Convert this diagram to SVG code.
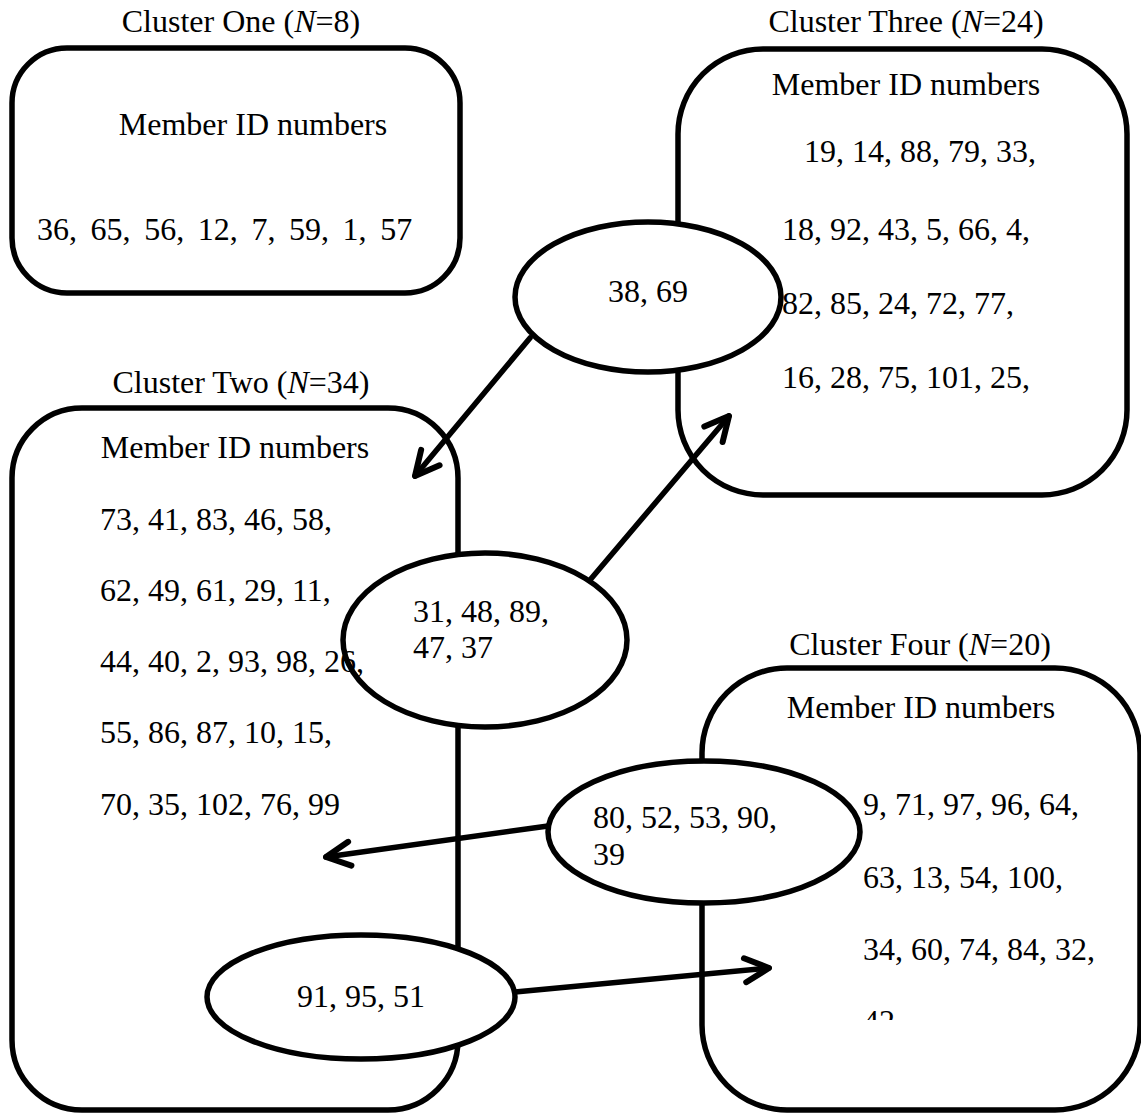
<svg xmlns="http://www.w3.org/2000/svg" width="1141" height="1118" viewBox="0 0 1141 1118">
  <style>
    .box { fill: none; stroke: #000; stroke-width: 5.5; }
    .oval { fill: #fff; stroke: #000; stroke-width: 5.5; }
    .link { fill: none; stroke: #000; stroke-width: 5.5; stroke-linecap: round; }
    text { font-family: "Liberation Serif", "Times New Roman", serif; font-size: 32px; fill: #000; }
    .c { text-anchor: middle; }
  </style>
  <defs>
    <marker id="arrow" viewBox="0 0 32 32" refX="29" refY="16" markerWidth="32" markerHeight="32" markerUnits="userSpaceOnUse" orient="auto">
      <path d="M5,4 L29,16 L5,28" fill="none" stroke="#000" stroke-width="6" stroke-linecap="round" stroke-linejoin="round"/>
    </marker>
    <clipPath id="clip4">
      <rect x="700" y="660" width="441" height="360"/>
    </clipPath>
  </defs>

  <!-- cluster outlines -->
  <g id="cluster-one">
    <text class="c" x="241" y="32">Cluster One (<tspan font-style="italic">N</tspan>=8)</text>
    <rect class="box" x="12" y="48" width="448" height="245" rx="55" ry="55"/>
  </g>
  <g id="cluster-three">
    <text class="c" x="906" y="32">Cluster Three (<tspan font-style="italic">N</tspan>=24)</text>
    <rect class="box" x="678" y="49" width="449" height="446" rx="85" ry="85"/>
  </g>
  <g id="cluster-two">
    <text class="c" x="241" y="393">Cluster Two (<tspan font-style="italic">N</tspan>=34)</text>
    <rect class="box" x="12" y="408" width="446" height="702" rx="70" ry="70"/>
  </g>
  <g id="cluster-four">
    <text class="c" x="920" y="655">Cluster Four (<tspan font-style="italic">N</tspan>=20)</text>
    <rect class="box" x="702" y="668" width="438" height="442" rx="85" ry="85"/>
  </g>

  <!-- shared members -->
  <g id="shared-38-69">
    <ellipse class="oval" cx="648" cy="297" rx="133" ry="75"/>
    <text class="c" x="648" y="302">38, 69</text>
  </g>
  <g id="shared-31-48-89-47-37">
    <ellipse class="oval" cx="485" cy="640" rx="142" ry="87"/>
    <text x="413" y="622">31, 48, 89,</text>
    <text x="413" y="658">47, 37</text>
  </g>
  <g id="shared-80-52-53-90-39">
    <ellipse class="oval" cx="704" cy="832" rx="156" ry="71"/>
    <text x="593" y="828">80, 52, 53, 90,</text>
    <text x="593" y="865">39</text>
  </g>
  <g id="shared-91-95-51">
    <ellipse class="oval" cx="361" cy="997" rx="154" ry="62"/>
    <text class="c" x="361" y="1007">91, 95, 51</text>
  </g>

  <!-- member lists -->
  <g id="members-one">
    <text class="c" x="253" y="135">Member ID numbers</text>
    <text x="37" y="240" word-spacing="5.6">36, 65, 56, 12, 7, 59, 1, 57</text>
  </g>
  <g id="members-three">
    <text class="c" x="906" y="95">Member ID numbers</text>
    <text x="804" y="162">19, 14, 88, 79, 33,</text>
    <text x="782" y="240">18, 92, 43, 5, 66, 4,</text>
    <text x="782" y="314">82, 85, 24, 72, 77,</text>
    <text x="782" y="388">16, 28, 75, 101, 25,</text>
  </g>
  <g id="members-two">
    <text class="c" x="235" y="458">Member ID numbers</text>
    <text x="100" y="530">73, 41, 83, 46, 58,</text>
    <text x="100" y="601">62, 49, 61, 29, 11,</text>
    <text x="100" y="672">44, 40, 2, 93, 98, 26,</text>
    <text x="100" y="743">55, 86, 87, 10, 15,</text>
    <text x="100" y="815">70, 35, 102, 76, 99</text>
  </g>
  <g id="members-four">
    <text class="c" x="921" y="718">Member ID numbers</text>
    <g clip-path="url(#clip4)">
      <text x="863" y="815">9, 71, 97, 96, 64,</text>
      <text x="863" y="888">63, 13, 54, 100,</text>
      <text x="863" y="960">34, 60, 74, 84, 32,</text>
      <text x="863" y="1032">42</text>
    </g>
  </g>

  <!-- connectors -->
  <g id="connectors">
    <line class="link" x1="530" y1="338" x2="415" y2="476" marker-end="url(#arrow)"/>
    <line class="link" x1="590" y1="580" x2="729" y2="416" marker-end="url(#arrow)"/>
    <line class="link" x1="548" y1="826" x2="326" y2="857" marker-end="url(#arrow)"/>
    <line class="link" x1="515" y1="992" x2="769" y2="968" marker-end="url(#arrow)"/>
  </g>
</svg>
